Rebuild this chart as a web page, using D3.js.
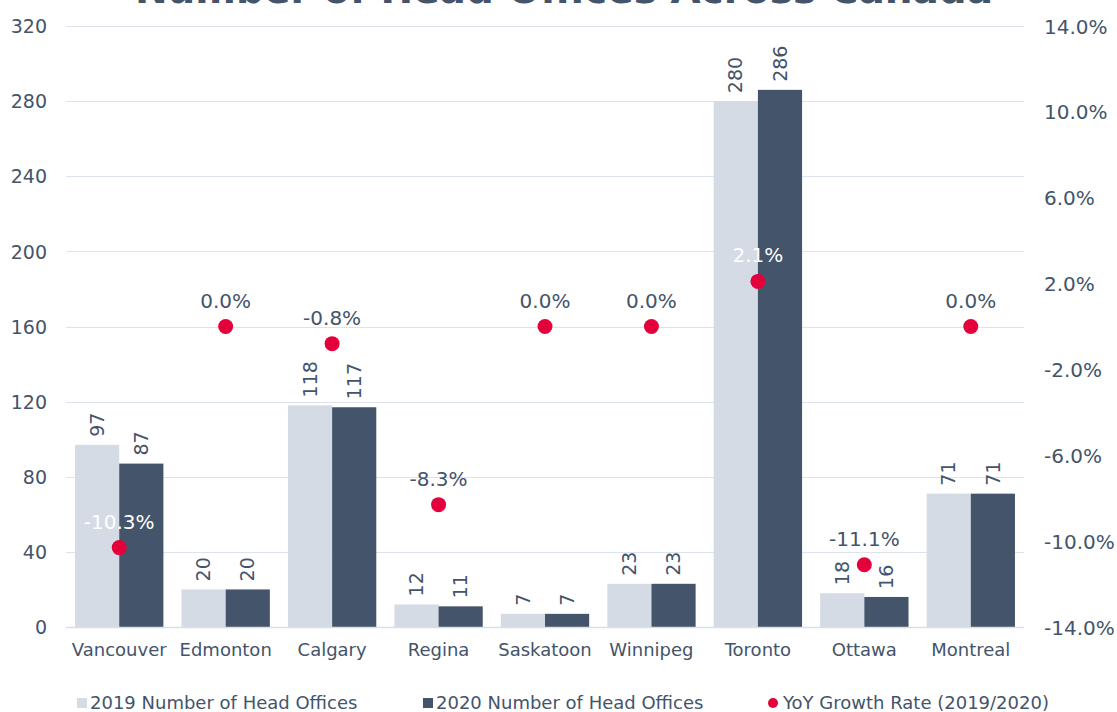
<!DOCTYPE html>
<html lang="en">
<head>
<meta charset="UTF-8">
<title>Number of Head Offices Across Canada</title>
<script src="https://cdn.jsdelivr.net/npm/d3@7"></script>
<style>
    body { margin: 0; background: #ffffff; }
    #grafico { width: 1117px; height: 712px; }
    text { font-family: 'DejaVu Sans', Verdana, sans-serif; fill: #44546a; }
    .ejes .domain { display: none; }
    .ejes line { stroke: none; }
    .rejilla line { stroke: #dde3ec; stroke-width: 1; }
    .barra2019 { fill: #d5dbe5; }
    .barra2020 { fill: #44546a; }
    .bolas { fill: #e4003b; }
</style>
</head>
<body>
<div id="grafico"></div>
<script>
// datos
var ciudades = ["Vancouver", "Edmonton", "Calgary", "Regina", "Saskatoon", "Winnipeg", "Toronto", "Ottawa", "Montreal"];
var oficinas2019 = [97, 20, 118, 12, 7, 23, 280, 18, 71];
var oficinas2020 = [87, 20, 117, 11, 7, 23, 286, 16, 71];
var crecimiento = [-10.3, 0.0, -0.8, -8.3, 0.0, 0.0, 2.1, -11.1, 0.0];
var ticksIzq = [0, 40, 80, 120, 160, 200, 240, 280, 320];
var ticksDer = [-14, -10, -6, -2, 2, 6, 10, 14];
var leyenda = ["2019 Number of Head Offices", "2020 Number of Head Offices", "YoY Growth Rate (2019/2020)"];
var titulo = "Number of Head Offices Across Canada";

var w = 1117, h = 712;
var margen = {top: 26, right: 93, bottom: 85, left: 66};

var svg = d3.select("#grafico").append("svg")
    .attr("width", w)
    .attr("height", h);

var xScale = d3.scaleBand()
    .domain(ciudades)
    .range([margen.left, w - margen.right])
    .paddingInner(0.17)
    .paddingOuter(0.085);

var xSub = d3.scaleBand()
    .domain(["2019", "2020"])
    .range([0, xScale.bandwidth()]);

var yScale = d3.scaleLinear()
    .domain([0, 320])
    .range([h - margen.bottom, margen.top]);

var y2Scale = d3.scaleLinear()
    .domain([-14, 14])
    .range([h - margen.bottom, margen.top]);

// rejilla
svg.append("g")
    .attr("class", "rejilla")
    .selectAll("line")
    .data(ticksIzq)
    .enter()
    .append("line")
    .attr("x1", margen.left)
    .attr("x2", w - margen.right)
    .attr("y1", function(d){ return Math.round(yScale(d)) + 0.5; })
    .attr("y2", function(d){ return Math.round(yScale(d)) + 0.5; });

// ejes
svg.append("g")
    .attr("class", "ejes")
    .attr("transform", "translate(" + (margen.left - 19) + ",0)")
    .call(d3.axisLeft(yScale).tickValues(ticksIzq).tickSize(0).tickPadding(0))
    .selectAll("text").attr("dy", "0.35em").style("font-size", "19px");

svg.append("g")
    .attr("class", "ejes")
    .attr("transform", "translate(" + (w - margen.right + 20) + ",0)")
    .call(d3.axisRight(y2Scale).tickValues(ticksDer).tickSize(0).tickPadding(0)
        .tickFormat(function(d){ return d.toFixed(1) + "%"; }))
    .selectAll("text").attr("dy", "0.35em").style("font-size", "20px");

svg.append("g")
    .attr("class", "ejes")
    .attr("transform", "translate(0," + (h - margen.bottom + 16) + ")")
    .call(d3.axisBottom(xScale).tickSize(0).tickPadding(0))
    .selectAll("text").attr("dy", "0.71em").style("font-size", "18px");

// barras
var filas = ciudades.map(function(c, i){
    return {ciudad: c, v2019: oficinas2019[i], v2020: oficinas2020[i], g: crecimiento[i]};
});

var series = [
    {clave: "2019", clase: "barra2019", valor: function(d){ return d.v2019; }},
    {clave: "2020", clase: "barra2020", valor: function(d){ return d.v2020; }}
];

series.forEach(function(s){
    svg.append("g").selectAll("rect")
        .data(filas)
        .enter()
        .append("rect")
        .attr("class", s.clase)
        .attr("x", function(d){ return xScale(d.ciudad) + xSub(s.clave); })
        .attr("y", function(d){ return yScale(s.valor(d)); })
        .attr("width", xSub.bandwidth())
        .attr("height", function(d){ return yScale(0) - yScale(s.valor(d)); });

    svg.append("g").selectAll("text")
        .data(filas)
        .enter()
        .append("text")
        .text(function(d){ return s.valor(d); })
        .attr("transform", function(d){
            var x = xScale(d.ciudad) + xSub(s.clave) + xSub.bandwidth() / 2;
            var y = yScale(s.valor(d)) - 8;
            return "translate(" + x + "," + y + ") rotate(-90)";
        })
        .attr("dy", "0.35em")
        .style("font-size", "19px");
});

// linea base
svg.append("line")
    .attr("x1", margen.left)
    .attr("x2", w - margen.right)
    .attr("y1", yScale(0) + 0.5)
    .attr("y2", yScale(0) + 0.5)
    .style("stroke", "#d9dfe8")
    .style("stroke-width", 1.5);

// bolas de crecimiento
var centro = function(d){ return xScale(d.ciudad) + xScale.bandwidth() / 2; };

svg.append("g").selectAll("circle")
    .data(filas)
    .enter()
    .append("circle")
    .attr("class", "bolas")
    .attr("cx", centro)
    .attr("cy", function(d){ return y2Scale(d.g); })
    .attr("r", 7.5);

svg.append("g").selectAll("text")
    .data(filas)
    .enter()
    .append("text")
    .text(function(d){ return d.g.toFixed(1) + "%"; })
    .attr("x", centro)
    .attr("y", function(d){ return y2Scale(d.g) - 19; })
    .attr("text-anchor", "middle")
    .style("font-size", "20px")
    .style("fill", function(d){
        // blanco si la etiqueta cae encima de las barras
        var topeBarra = yScale(Math.max(d.v2019, d.v2020));
        return (y2Scale(d.g) - 26 > topeBarra) ? "#ffffff" : "#44546a";
    });

// titulo
svg.append("text")
    .text(titulo)
    .attr("x", 564)
    .attr("y", 3)
    .attr("text-anchor", "middle")
    .style("font-size", "39px")
    .style("font-weight", "bold");

// leyenda
var posLeyenda = [77, 423, 768];
var ley = svg.append("g").selectAll("g")
    .data(leyenda)
    .enter()
    .append("g")
    .attr("transform", function(d, i){ return "translate(" + posLeyenda[i] + ",703)"; });

ley.each(function(d, i){
    var g = d3.select(this);
    if (i < 2) {
        g.append("rect")
            .attr("x", 0).attr("y", -5)
            .attr("width", 10).attr("height", 10)
            .attr("class", i === 0 ? "barra2019" : "barra2020");
    } else {
        g.append("circle")
            .attr("cx", 5).attr("cy", 0).attr("r", 5)
            .attr("class", "bolas");
    }
    g.append("text")
        .text(d)
        .attr("x", i < 2 ? 13 : 15)
        .attr("dy", "0.35em")
        .style("font-size", "18px");
});
</script>
</body>
</html>
